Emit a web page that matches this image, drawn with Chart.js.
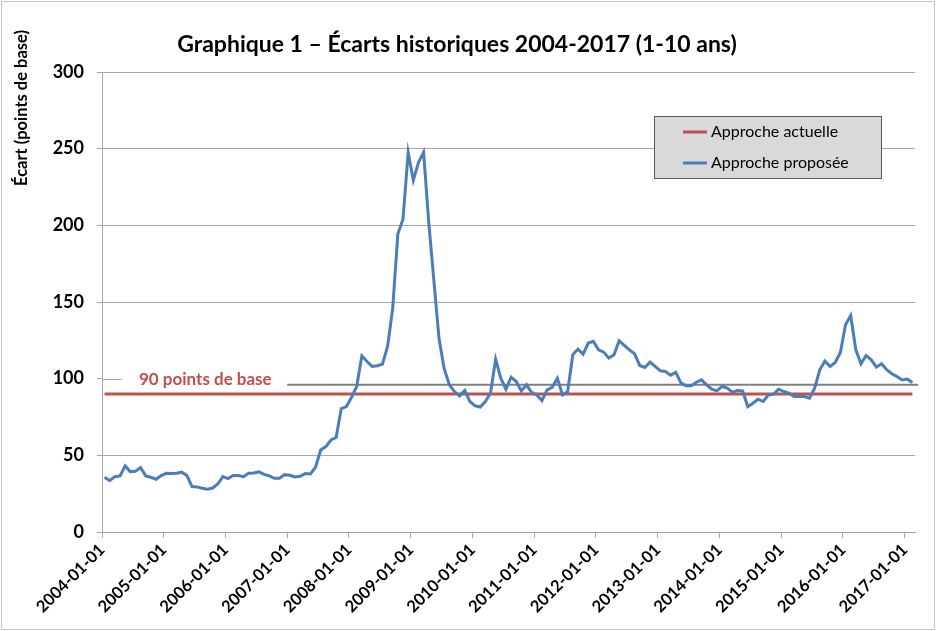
<!DOCTYPE html>
<html>
<head>
<meta charset="utf-8">
<script src="https://cdn.jsdelivr.net/npm/chart.js@4.4.0/dist/chart.umd.min.js"></script>
<style>
  html, body { margin: 0; padding: 0; background: #fff; }
</style>
</head>
<body>
<canvas id="graphique" width="936" height="631"></canvas>
<script>
// Écarts mensuels, 2004-01 à 2017-02 (points de base)
const approcheProposee = [
  35.7, 33.5, 36.1, 36.6, 43.1, 39.4, 39.6, 42.0, 36.6, 35.7, 34.4, 36.8,
  38.3, 38.1, 38.3, 39.0, 36.8, 29.6, 29.4, 28.5, 27.9, 28.7, 31.3, 36.1,
  34.8, 36.8, 36.8, 36.1, 38.3, 38.5, 39.2, 37.6, 36.6, 35.0, 35.0, 37.4,
  37.0, 35.9, 36.3, 38.1, 37.9, 42.2, 53.5, 55.7, 60.0, 61.6, 80.5, 81.8,
  87.9, 94.9, 114.9, 111.2, 108.0, 108.4, 109.5, 121.0, 146.0, 194.5, 204.0, 247.5,
  229.4, 241.0, 247.7, 202.0, 164.0, 126.0, 106.5, 96.0, 91.6, 88.8, 92.3, 85.1,
  82.3, 81.5, 85.1, 90.5, 112.7, 100.3, 93.1, 101.0, 98.1, 92.0, 96.0, 91.0,
  89.4, 85.7, 92.7, 94.4, 100.3, 89.4, 91.6, 115.6, 119.3, 116.0, 123.2, 124.3,
  118.8, 117.3, 113.4, 115.6, 124.7, 121.7, 118.8, 116.2, 108.6, 107.3, 110.8, 108.0,
  105.1, 104.7, 102.3, 104.1, 97.3, 95.3, 95.3, 97.7, 99.2, 96.0, 93.1, 92.0,
  94.9, 93.8, 91.2, 92.3, 92.0, 81.8, 84.0, 86.6, 85.1, 89.4, 89.9, 93.1,
  91.6, 90.5, 88.4, 88.4, 88.4, 87.3, 93.8, 105.8, 111.6, 108.0, 110.6, 117.1,
  135.1, 141.2, 118.8, 109.7, 115.1, 112.3, 107.5, 109.7, 105.8, 103.2, 101.4, 99.2,
  99.7, 97.5
];
const approcheActuelle = 90;
const ligneGrise = 96;
const anneesTicks = [
  '2004-01-01', '2005-01-01', '2006-01-01', '2007-01-01', '2008-01-01',
  '2009-01-01', '2010-01-01', '2011-01-01', '2012-01-01', '2013-01-01',
  '2014-01-01', '2015-01-01', '2016-01-01', '2017-01-01'
];
const nomsSeries = ['Approche actuelle', 'Approche proposée'];
const titre = 'Graphique 1 – Écarts historiques 2004-2017 (1-10 ans)';
const titreAxeY = 'Écart (points de base)';
const etiquette90 = '90 points de base';

const police = "Lato, 'Noto Sans', sans-serif";
const bleu = '#4a7ebb';
const rouge = '#c0504d';
const gris = '#808080';
const grille = '#a6a6a6';

const nbMois = approcheProposee.length;

// fond, cadre, titres, étiquette et légende
const decor = {
  id: 'decor',
  beforeDraw(chart) {
    const ctx = chart.ctx;
    ctx.save();
    ctx.fillStyle = '#fff';
    ctx.fillRect(0, 0, chart.width, chart.height);
    ctx.strokeStyle = '#c4c4c4';
    ctx.lineWidth = 1;
    ctx.strokeRect(1.5, 1.5, chart.width - 3, chart.height - 3);
    ctx.restore();
  },
  afterDraw(chart) {
    const ctx = chart.ctx;
    const area = chart.chartArea;
    const y = chart.scales.y;
    ctx.save();

    // titre
    ctx.fillStyle = '#000';
    ctx.font = 'bold 23px ' + police;
    ctx.textAlign = 'center';
    ctx.textBaseline = 'middle';
    ctx.fillText(titre, 457, 45);

    // titre de l'axe Y
    ctx.save();
    ctx.translate(22, 108);
    ctx.rotate(-Math.PI / 2);
    ctx.font = 'bold 16.5px ' + police;
    ctx.fillText(titreAxeY, 0, 0);
    ctx.restore();

    // bout de grille à 100
    const y100 = Math.round(y.getPixelForValue(100)) + 0.5;
    ctx.strokeStyle = grille;
    ctx.lineWidth = 1;
    ctx.beginPath();
    ctx.moveTo(area.left, y100);
    ctx.lineTo(area.left + 20, y100);
    ctx.stroke();

    // étiquette 90 points de base
    ctx.font = 'bold 17px ' + police;
    ctx.fillStyle = rouge;
    ctx.textAlign = 'left';
    ctx.fillText(etiquette90, 139, y100);

    // légende
    const lx = 654, ly = 116, lw = 228, lh = 63;
    ctx.fillStyle = '#d9d9d9';
    ctx.fillRect(lx, ly, lw, lh);
    ctx.strokeStyle = '#595959';
    ctx.strokeRect(lx + 0.5, ly + 0.5, lw - 1, lh - 1);
    const items = chart.data.datasets.filter(d => nomsSeries.includes(d.label))
      .sort((a, b) => nomsSeries.indexOf(a.label) - nomsSeries.indexOf(b.label));
    ctx.font = '16px ' + police;
    ctx.textBaseline = 'middle';
    items.forEach((d, i) => {
      const yy = 132 + i * 31;
      ctx.strokeStyle = d.borderColor;
      ctx.lineWidth = 3;
      ctx.beginPath();
      ctx.moveTo(683, yy);
      ctx.lineTo(707, yy);
      ctx.stroke();
      ctx.fillStyle = '#000';
      ctx.fillText(d.label, 711, yy);
    });
    ctx.restore();
  }
};

new Chart(document.getElementById('graphique'), {
  type: 'line',
  data: {
    datasets: [
      {
        label: nomsSeries[1],
        data: approcheProposee.map((v, i) => ({ x: i + 0.5, y: v })),
        borderColor: bleu,
        borderWidth: 3,
        pointRadius: 0,
        tension: 0,
        order: 0
      },
      {
        label: nomsSeries[0],
        data: [{ x: 0.5, y: approcheActuelle }, { x: nbMois - 0.5, y: approcheActuelle }],
        borderColor: rouge,
        borderWidth: 3,
        pointRadius: 0,
        order: 1
      },
      {
        label: 'repère',
        data: [{ x: 36, y: ligneGrise }, { x: 158.6, y: ligneGrise }],
        borderColor: gris,
        borderWidth: 2,
        pointRadius: 0,
        clip: false,
        order: 2
      }
    ]
  },
  options: {
    responsive: false,
    animation: false,
    layout: { padding: { left: 0, top: 72, right: 21, bottom: 0 } },
    plugins: {
      legend: { display: false },
      tooltip: { enabled: false }
    },
    scales: {
      x: {
        type: 'linear',
        min: 0,
        max: 158,
        afterFit: s => { s.height = 99; },
        border: { color: grille },
        grid: { drawOnChartArea: false, tickLength: 6, color: grille },
        ticks: {
          stepSize: 12,
          includeBounds: false,
          autoSkip: false,
          maxRotation: 45,
          minRotation: 45,
          padding: 2,
          color: '#000',
          font: { family: police, size: 16.5, weight: 'bold' },
          callback: v => anneesTicks[v / 12]
        }
      },
      y: {
        min: 0,
        max: 300,
        afterFit: s => { s.width = 102; },
        border: { color: grille },
        grid: {
          tickLength: 5,
          tickColor: grille,
          color: c => (c.tick && c.tick.value === 100 ? 'rgba(0,0,0,0)' : grille)
        },
        ticks: {
          stepSize: 50,
          padding: 13,
          color: '#000',
          font: { family: police, size: 18, weight: 'bold' }
        }
      }
    }
  },
  plugins: [decor]
});
</script>
</body>
</html>
